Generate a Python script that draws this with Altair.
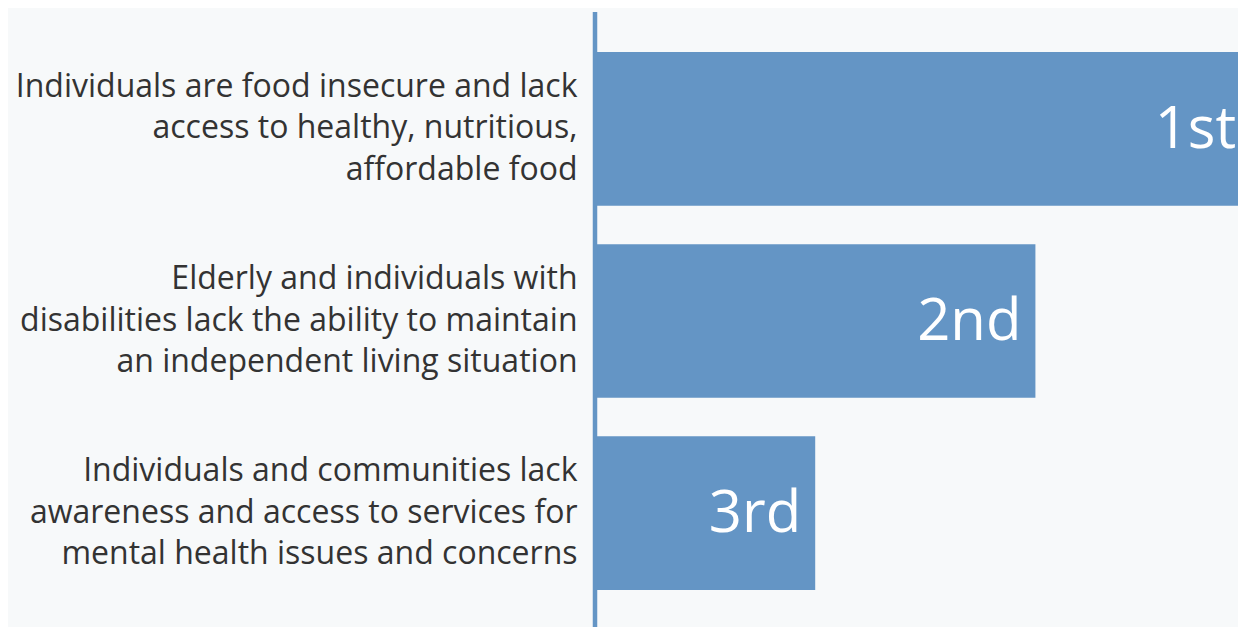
import altair as alt
import pandas as pd

categories = [
    "Individuals are food insecure and lack|access to healthy, nutritious,|affordable food",
    "Elderly and individuals with|disabilities lack the ability to maintain|an independent living situation",
    "Individuals and communities lack|awareness and access to services for|mental health issues and concerns",
]
scores = [3, 2, 1]
rank_labels = ["1st", "2nd", "3rd"]

BLUE = "#6495c5"
df = pd.DataFrame({"issue": categories, "score": scores, "rank": rank_labels})

y_enc = alt.Y(
    "issue:N",
    sort=categories,
    title=None,
    scale=alt.Scale(paddingInner=0.2, paddingOuter=0, align=0),
    axis=alt.Axis(
        labelExpr="split(datum.label, '|')",
        labelFont="Open Sans",
        labelFontSize=32,
        labelLineHeight=41.5,
        labelOffset=-42,
        labelColor="#333333",
        labelLimit=1000,
        labelPadding=18,
        ticks=False,
        domain=False,
        grid=False,
    ),
)
x_enc = alt.X("score:Q", axis=None, scale=alt.Scale(domain=[0, 2.92], nice=False, zero=True))

base = alt.Chart(df)
bars = base.mark_bar(color=BLUE).encode(y=y_enc, x=x_enc)
texts = (
    base.transform_calculate(textx="min(datum.score, 2.975)")
    .mark_text(align="right", baseline="middle", dx=-14, dy=2, color="white", font="Open Sans", fontSize=58)
    .encode(y=alt.Y("issue:N", sort=categories), x=alt.X("textx:Q"), text="rank:N")
)
axis_line = alt.Chart(alt.Data(values=[{"a": 1}])).mark_rule(color=BLUE, strokeWidth=4.5).encode(
    x=alt.value(0), y=alt.value(-40), y2=alt.value(600)
)

chart = (
    alt.layer(bars, texts, axis_line)
    .properties(
        width=643,
        height=538,
        background="#f7f9fa",
        padding={"left": 587, "top": 44, "right": 0, "bottom": 37},
        autosize=alt.AutoSizeParams(type="none"),
    )
    .configure_view(stroke=None)
)

chart.save("out.html", embed_options={"renderer": "svg", "actions": False})
